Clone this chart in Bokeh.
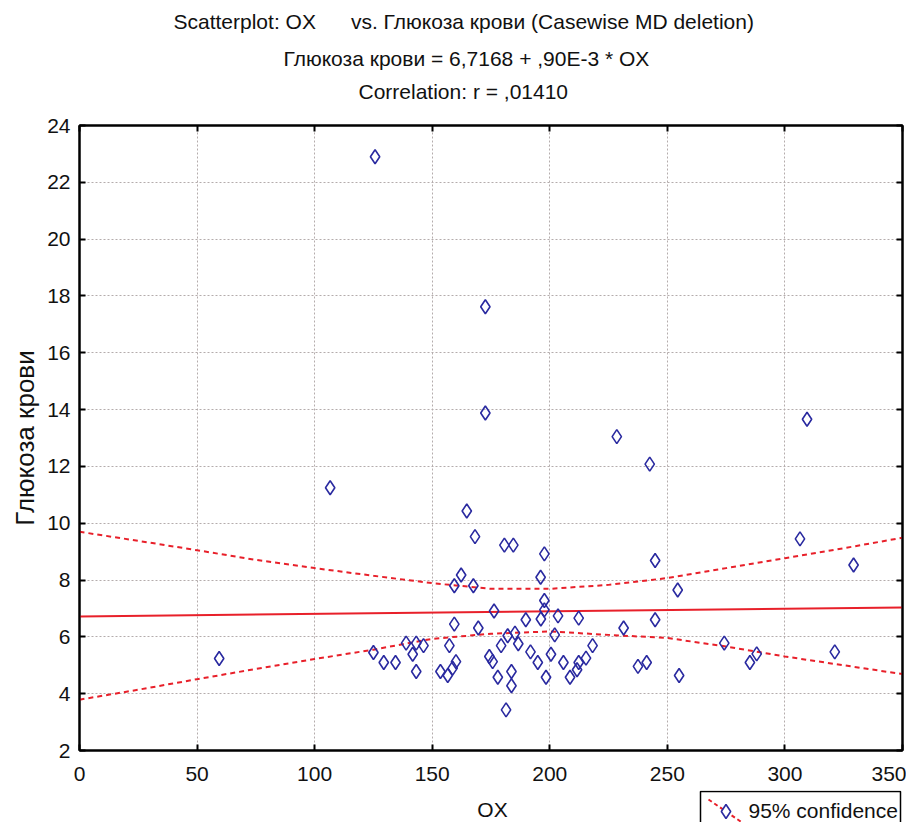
from bokeh.plotting import figure
from bokeh.models import LinearAxis, FixedTicker, Range1d, Title
from bokeh.layouts import column
from bokeh.core.properties import value
from bokeh.embed import file_html
from bokeh.resources import INLINE

# OX vs. blood glucose, values
ox = [125.7, 106.6, 172.6, 172.6, 228.5, 242.5, 309.4, 164.7, 59.4, 306.4,
      329.2, 274.2, 288.0, 285.1, 321.2, 244.8, 254.4, 244.8, 231.4, 241.2,
      237.5, 255.0, 168.2, 180.7, 184.5, 197.7, 196.1, 197.7, 197.7, 196.2,
      176.3, 189.8, 203.5, 212.3, 169.6, 182.1, 185.2, 202.1, 186.6, 179.3,
      218.2, 191.8, 174.3, 175.7, 200.5, 194.9, 205.8, 215.4, 212.3, 211.6,
      208.6, 183.7, 177.9, 198.4, 183.7, 181.4, 162.3, 159.4, 167.5, 159.4,
      157.3, 138.9, 143.2, 146.3, 141.7, 125.0, 129.4, 134.4, 143.2, 153.5,
      156.6, 158.7, 160.1]
glucose = [22.9, 11.25, 17.62, 13.88, 13.05, 12.08, 13.66, 10.43, 5.24, 9.45,
           8.53, 5.78, 5.40, 5.10, 5.47, 8.69, 7.65, 6.60, 6.31, 5.10,
           4.96, 4.64, 9.53, 9.23, 9.23, 8.92, 8.10, 7.28, 6.95, 6.63,
           6.91, 6.60, 6.74, 6.66, 6.31, 6.04, 6.13, 6.07, 5.76, 5.69,
           5.69, 5.47, 5.31, 5.13, 5.39, 5.10, 5.10, 5.25, 5.10, 4.84,
           4.58, 4.78, 4.58, 4.58, 4.28, 3.43, 8.18, 7.80, 7.80, 6.45,
           5.69, 5.78, 5.78, 5.69, 5.39, 5.45, 5.10, 5.10, 4.78, 4.78,
           4.64, 4.90, 5.13]

# regression line and 95% confidence band
fit_x = [0, 350]
fit_y = [6.72, 7.03]
band_x = [0, 25, 50, 75, 100, 125, 150, 175, 200, 225, 250, 275, 300, 325, 350]
band_upper = [9.70, 9.38, 9.05, 8.71, 8.42, 8.15, 7.89, 7.69, 7.69, 7.83, 8.07, 8.42, 8.77, 9.12, 9.49]
band_lower = [3.79, 4.14, 4.51, 4.87, 5.22, 5.55, 5.93, 6.11, 6.19, 6.07, 5.96, 5.66, 5.31, 5.00, 4.69]

x_ticks = [0, 50, 100, 150, 200, 250, 300, 350]
y_ticks = [2, 4, 6, 8, 10, 12, 14, 16, 18, 20, 22, 24]
title_lines = ["Scatterplot: OX\u00a0\u00a0\u00a0\u00a0\u00a0\u00a0vs. Глюкоза крови (Casewise MD deletion)",
               "Глюкоза крови = 6,7168 + ,90E-3 * OX",
               "Correlation: r = ,01410"]
x_label = "OX"
y_label = "Глюкоза крови"
legend_label = "95% confidence"

FONT = "Liberation Sans"
RED = "#e8202a"
BLUE = "#2a2aa0"
INK = "#111111"
W = 906
LEFT, RIGHT = 79, 4

p = figure(width=W, height=790,
           x_range=Range1d(0, 350), y_range=Range1d(2, 24),
           output_backend="svg", toolbar_location=None,
           min_border_left=LEFT, min_border_right=RIGHT,
           min_border_top=125, min_border_bottom=40,
           y_axis_label=y_label)
p.background_fill_color = "white"
p.outline_line_color = "black"
p.outline_line_width = 2

for g in (p.xgrid, p.ygrid):
    g.grid_line_color = "#b4acac"
    g.grid_line_dash = "2 2"
    g.grid_line_width = 1
p.xgrid.ticker = FixedTicker(ticks=x_ticks)
p.ygrid.ticker = FixedTicker(ticks=y_ticks)

p.xaxis.ticker = FixedTicker(ticks=x_ticks)
p.yaxis.ticker = FixedTicker(ticks=y_ticks)
for ax in (p.xaxis, p.yaxis):
    ax.axis_line_width = 2
    ax.axis_line_color = "black"
    ax.major_tick_in = 6
    ax.major_tick_out = 0
    ax.major_tick_line_width = 2
    ax.minor_tick_line_color = None
    ax.major_label_text_font = FONT
    ax.major_label_text_font_size = "21px"
    ax.major_label_text_color = INK
p.xaxis.major_label_standoff = 16
p.yaxis.major_label_standoff = 9
p.yaxis.axis_label_text_font = FONT
p.yaxis.axis_label_text_font_style = "normal"
p.yaxis.axis_label_text_color = INK
p.yaxis.axis_label_text_font_size = "26px"
p.yaxis.axis_label_standoff = 4

# tick marks on the top and right edges of the frame
for side, ticks in (("above", x_ticks), ("right", y_ticks)):
    extra = LinearAxis(ticker=FixedTicker(ticks=ticks))
    extra.major_label_overrides = {t: "" for t in ticks}
    extra.major_label_standoff = 0
    extra.axis_line_width = 2
    extra.major_tick_in = 6
    extra.major_tick_out = 0
    extra.major_tick_line_width = 2
    extra.minor_tick_line_color = None
    p.add_layout(extra, side)

# gap between frame and the title block, then the three lines
p.add_layout(Title(text=" ", standoff=4, text_font=FONT, text_font_size="15px"), "above")
for txt, stand, off in zip(reversed(title_lines), [0, 15, 10], [279, 204, 94]):
    p.add_layout(Title(text=txt, align="left", offset=off, standoff=stand,
                       text_font=FONT, text_font_size="21px",
                       text_font_style="normal", text_color=INK), "above")

p.line(band_x, band_upper, line_color=RED, line_width=2, line_dash="5 4")
p.line(band_x, band_lower, line_color=RED, line_width=2, line_dash="5 4")
p.line(fit_x, fit_y, line_color=RED, line_width=2)
p.scatter(ox, glucose, marker="diamond", size=14, fill_color=None,
          line_color=BLUE, line_width=1.6)

# strip under the plot: x-axis title and the legend box; the column lines its
# frame up with the main frame, so its x range is given in page pixels
strip = figure(width=W, height=32, x_range=Range1d(LEFT, W - RIGHT), y_range=Range1d(822, 790),
               output_backend="svg", toolbar_location=None,
               min_border_left=LEFT, min_border_right=RIGHT, min_border_top=0, min_border_bottom=0,
               x_axis_location=None, y_axis_location=None)
strip.outline_line_color = None
strip.grid.visible = False
strip.text(x=[492], y=[809], text=[x_label], text_align="center", text_baseline="middle",
           text_font=value(FONT), text_font_size="21px", text_color=INK)
bx, by = 700, 791
strip.quad(left=[bx], right=[W - RIGHT - 2], top=[by], bottom=[by + 50],
           fill_color="white", line_color="black", line_width=1.5)
strip.line([bx + 8, bx + 43], [by + 8, by + 32], line_color=RED, line_width=2, line_dash="4 3")
strip.scatter([bx + 25.5], [by + 20], marker="diamond", size=14, fill_color="white",
              line_color=BLUE, line_width=1.6)
strip.text(x=[bx + 48], y=[by + 19], text=[legend_label], text_align="left",
           text_baseline="middle", text_font=value(FONT), text_font_size="21px",
           text_color=INK)

open("out.html", "w").write(file_html(column(p, strip), INLINE))
